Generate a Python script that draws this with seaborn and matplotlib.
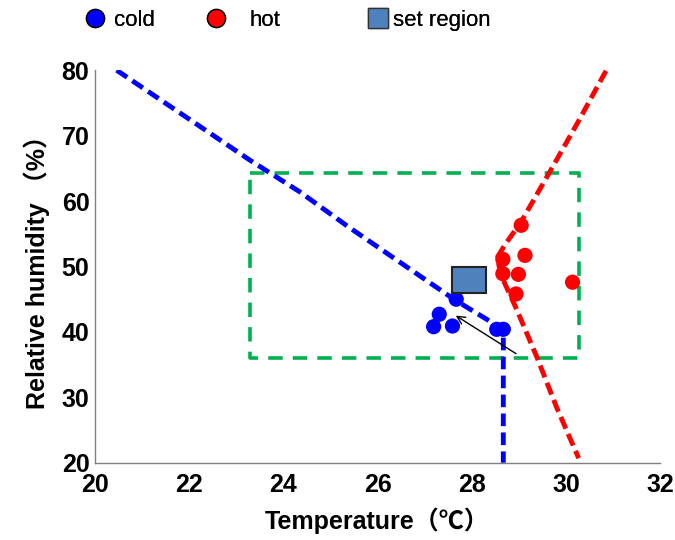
import matplotlib
matplotlib.use("Agg")
import matplotlib.pyplot as plt
from matplotlib.lines import Line2D
from matplotlib.patches import Rectangle
import seaborn as sns

sns.set_theme(style="white")
plt.rcParams["font.family"] = ["Liberation Sans", "Noto Sans CJK SC", "DejaVu Sans"]
plt.rcParams["text.color"] = "black"
plt.rcParams["axes.labelcolor"] = "black"
plt.rcParams["xtick.color"] = "black"
plt.rcParams["ytick.color"] = "black"

# Measured comfort votes
cold_temp = [27.67, 27.31, 27.19, 27.59, 28.53, 28.67]
cold_rh = [45.0, 42.7, 40.8, 40.9, 40.4, 40.4]
hot_temp = [29.05, 28.66, 29.13, 28.66, 28.99, 28.94, 30.14]
hot_rh = [56.3, 51.1, 51.7, 48.9, 48.8, 45.8, 47.6]

# Cold boundary: sloped branch then vertical drop
cold_line_t = [20.46, 23.29, 24.35, 25.38, 27.65, 28.53, 28.67, 28.67]
cold_line_rh = [80.0, 66.25, 61.4, 56.06, 44.85, 41.0, 40.4, 20.0]
# Hot boundary: curved branch
hot_line_t = [30.85, 30.25, 29.66, 29.03, 28.72, 28.55, 28.58, 28.67, 28.95, 29.38, 29.8, 30.27]
hot_line_rh = [79.9, 72.0, 64.5, 56.6, 53.5, 51.5, 50.0, 47.9, 43.5, 36.2, 28.5, 20.7]

# Comfort zone bounds and set point
zone_t = [23.3, 30.27]
zone_rh = [36.0, 64.3]
set_t, set_rh = 27.94, 47.9
set_w, set_h = 0.72, 3.9

x_ticks = [20, 22, 24, 26, 28, 30, 32]
y_ticks = [20, 30, 40, 50, 60, 70, 80]

fig = plt.figure(figsize=(6.75, 5.4), dpi=100)
ax = fig.add_axes([0.1407, 0.143, 0.8373, 0.727])

# comfort zone rectangle (dashed green)
zx = [zone_t[0], zone_t[1], zone_t[1], zone_t[0], zone_t[0]]
zy = [zone_rh[1], zone_rh[1], zone_rh[0], zone_rh[0], zone_rh[1] - 0.1]
ax.plot(zx, zy, color="#00B050", lw=2.6, dashes=(4.0, 2.8), zorder=1)

sns.lineplot(x=cold_line_t, y=cold_line_rh, sort=False, estimator=None, ax=ax,
             color="#0000FF", lw=3.5, zorder=2)
ax.lines[-1].set_dashes((2.6, 1.3))
sns.lineplot(x=hot_line_t, y=hot_line_rh, sort=False, estimator=None, ax=ax,
             color="#FF0000", lw=3.5, zorder=2)
ax.lines[-1].set_dashes((2.6, 1.2))

sns.scatterplot(x=cold_temp, y=cold_rh, ax=ax, color="#0000FF", s=120,
                edgecolor="none", zorder=4)
sns.scatterplot(x=hot_temp, y=hot_rh, ax=ax, color="#FF0000", s=120,
                edgecolor="none", zorder=4)

ax.add_patch(Rectangle((set_t - set_w / 2, set_rh - set_h / 2), set_w, set_h,
                       facecolor="#4F81BD", edgecolor="#222222", lw=1.5, zorder=5))

ax.annotate("", xy=(27.61, 42.72), xytext=(28.99, 36.45),
            arrowprops=dict(arrowstyle="->", color="black", lw=1.0,
                            mutation_scale=14), zorder=6)

ax.set_xlim(20, 32)
ax.set_ylim(20, 80)
ax.set_xticks(x_ticks)
ax.set_yticks(y_ticks)
ax.tick_params(direction="in", length=5, width=1, color="#808080",
               labelsize=18, labelcolor="black")
ax.tick_params(axis="x", pad=7)
ax.tick_params(axis="y", pad=4)
for lab in ax.get_xticklabels() + ax.get_yticklabels():
    lab.set_fontweight("bold")
for side in ["top", "right"]:
    ax.spines[side].set_visible(False)
for side in ["left", "bottom"]:
    ax.spines[side].set_color("#808080")
    ax.spines[side].set_linewidth(1.0)

ax.set_xlabel("Temperature（℃）", fontsize=18, fontweight="bold", labelpad=8)
ax.set_ylabel("Relative humidity （%）", fontsize=18, fontweight="bold", labelpad=8)

# legend entries placed one by one across the top
entries = [
    (Line2D([], [], ls="none", marker="o", markersize=13, markerfacecolor="#0000FF",
            markeredgecolor="black", markeredgewidth=1.0), "cold", 0.125, 0.35),
    (Line2D([], [], ls="none", marker="o", markersize=13, markerfacecolor="#FF0000",
            markeredgecolor="black", markeredgewidth=1.0), "hot", 0.304, 1.0),
    (Line2D([], [], ls="none", marker="s", markersize=14, markerfacecolor="#4F81BD",
            markeredgecolor="#333333", markeredgewidth=1.0), "set region", 0.544, 0.15),
]
for h, label, xpos, pad in entries:
    leg = fig.legend([h], [label], loc="center left", bbox_to_anchor=(xpos, 0.962),
                     frameon=False, fontsize=16, handletextpad=pad,
                     handlelength=1.0, borderaxespad=0, borderpad=0)
    fig.add_artist(leg)

fig.savefig("out.png", dpi=100)
